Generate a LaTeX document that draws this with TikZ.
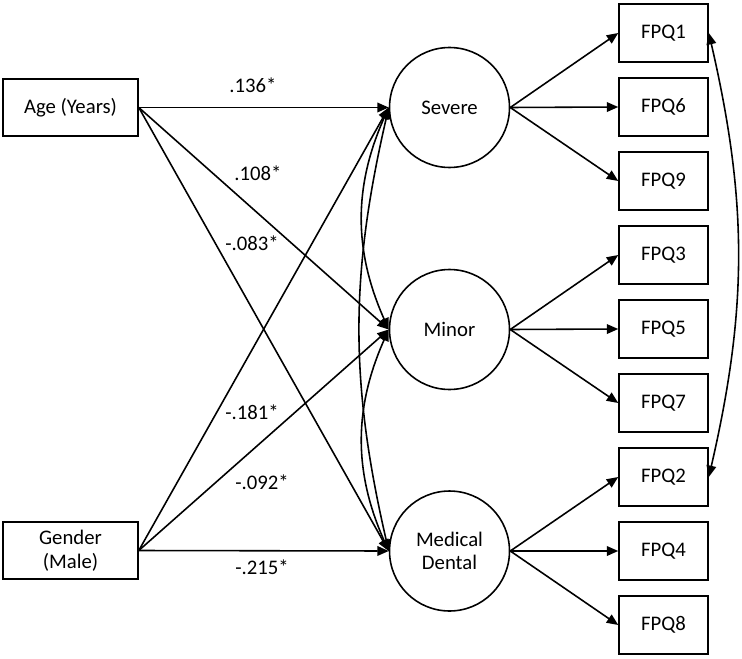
\documentclass[tikz,border=0pt]{standalone}
\usepackage{fontspec}
\setmainfont{Carlito}
\usepackage{tikz}
\usetikzlibrary{arrows.meta}

\begin{document}
\begin{tikzpicture}[x=0.02cm, y=-0.02cm, line width=0.9pt,
    font=\fontsize{11.8}{13.5}\selectfont,
    obsbox/.style={draw, rectangle, minimum width=2.7cm, minimum height=1.14cm, inner sep=0pt, align=center},
    itembox/.style={draw, rectangle, minimum width=1.78cm, minimum height=1.16cm, inner sep=0pt},
    latent/.style={draw, circle, minimum size=2.4cm, inner sep=0pt, align=center},
    regarrow/.style={-{Triangle[length=6.5pt,width=5.5pt]}},
    covarrow/.style={{Triangle[length=6.5pt,width=5.5pt]}-{Triangle[length=6.5pt,width=5.5pt]}}]

        \useasboundingbox (0,0) rectangle (742,658);

        % Observed predictors
        \node[obsbox] (age) at (70.5,107.5) {Age (Years)};
        \node[obsbox] (gender) at (70.5,550.5) {Gender\\(Male)};

        % Latent factors
        \node[latent] (severe) at (449.5,107.5) {Severe};
        \node[latent] (minor) at (449.5,329.5) {Minor};
        \node[latent] (meddent) at (449.5,551) {Medical\\Dental};

        % Items
        \foreach \name/\y in {1/33,6/107,9/181,3/255,5/329,7/403,2/477,4/551,8/625}
            \node[itembox] (fpq\name) at (663.5,\y) {FPQ\name};

        % Loadings
        \foreach \f/\a/\b/\c in {severe/1/6/9, minor/3/5/7, meddent/2/4/8} {
            \draw[regarrow] (\f.east) -- (fpq\a.west);
            \draw[regarrow] (\f.east) -- (fpq\b.west);
            \draw[regarrow] (\f.east) -- (fpq\c.west);
        }

        % Regression paths
        \foreach \f in {severe, minor, meddent} {
            \draw[regarrow] (age.east) -- (\f.west);
            \draw[regarrow] (gender.east) -- (\f.west);
        }

        % Coefficients
        \node (c1) at (253,85) {.136*};
        \node (c2) at (258,173) {.108*};
        \node (c3) at (252,243) {-.083*};
        \node (c4) at (252,412) {-.181*};
        \node (c5) at (262,482) {-.092*};
        \node (c6) at (262,567) {-.215*};

        % Covariances
        \draw[covarrow] (severe.west) to[bend right=24] (minor.west);
        \draw[covarrow] (minor.west) to[bend right=24] (meddent.west);
        \draw[covarrow] (severe.west) to[bend right=13] (meddent.west);
        \draw[covarrow] (fpq1.east) to[bend left=13] (fpq2.east);
    \end{tikzpicture}
\end{document}
